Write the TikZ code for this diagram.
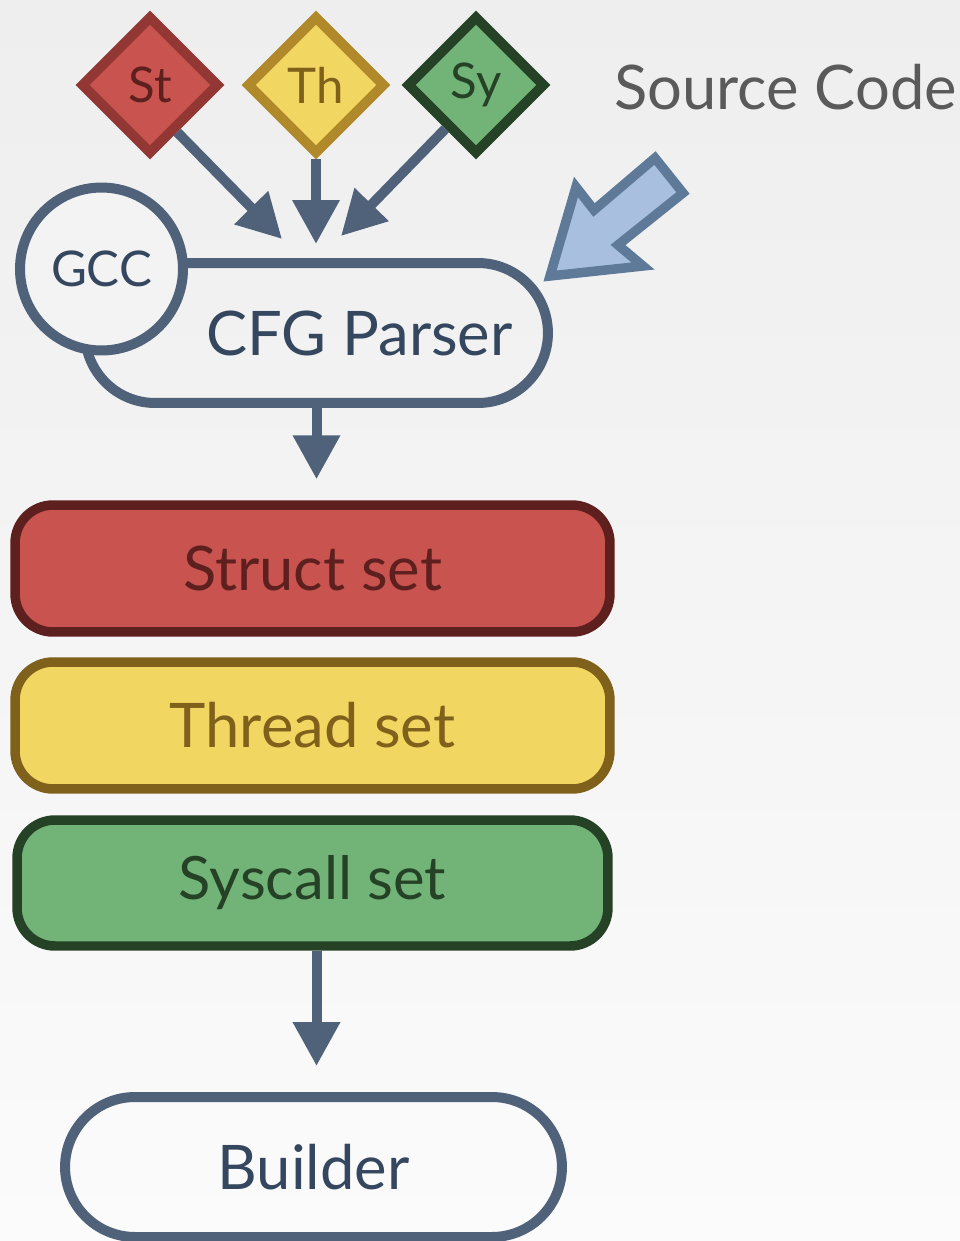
\documentclass[tikz,border=0pt]{standalone}
\usepackage{fontspec}
\setmainfont{Lato}
\usetikzlibrary{positioning, arrows.meta, shapes.geometric}

\definecolor{bgtop}{HTML}{EEEEEE}
\definecolor{bgbot}{HTML}{FBFBFB}
\definecolor{flowc}{HTML}{4F6279}
\definecolor{labc}{HTML}{34475F}
\definecolor{stfill}{HTML}{C8534F}
\definecolor{stline}{HTML}{933735}
\definecolor{sttext}{HTML}{5E1F1F}
\definecolor{thfill}{HTML}{F2D662}
\definecolor{thline}{HTML}{B08A2A}
\definecolor{thtext}{HTML}{7F611C}
\definecolor{syfill}{HTML}{72B477}
\definecolor{syline}{HTML}{264226}
\definecolor{srcfill}{HTML}{A8BFE0}
\definecolor{srcline}{HTML}{5F7A99}
\definecolor{srctext}{HTML}{5A5A5A}

\begin{document}
\begin{tikzpicture}[x=0.02cm, y=-0.02cm,
    flow/.style={draw=flowc, line width=0.2cm, -{Triangle[length=0.88cm, width=0.9cm]}},
    tag/.style={diamond, draw, line width=0.2cm, inner sep=0pt, minimum width=2.78cm, minimum height=2.78cm,
      font=\fontsize{28}{30}\selectfont},
    pill/.style={draw=flowc, line width=0.2cm, rounded corners=1.4cm, minimum height=2.8cm, inner sep=0pt,
      text=labc},
    setbox/.style={draw, line width=0.19cm, rounded corners=0.76cm, minimum width=11.9cm, minimum height=2.54cm,
      inner sep=0pt, font=\fontsize{35}{40}\selectfont}]
    % background
    \shade[top color=bgtop, bottom color=bgbot] (0,0) rectangle (960,1241);
    \useasboundingbox (0,0) rectangle (960,1241);

    \node[pill, minimum width=9.26cm, font=\fontsize{35}{40}\selectfont] (cfg) at (316.5,333) {\hspace*{1.72cm}CFG Parser};
    \node[circle, draw=flowc, line width=0.2cm, fill=bgtop!60!bgbot, minimum size=3.26cm, inner sep=0pt, text=labc,
      font=\fontsize{28}{30}\selectfont] (gcc) at (101.5,269) {GCC};

    % inputs
    \node[tag, fill=stfill, draw=stline, text=sttext] (st) at (150,85) {St};
    \node[tag, fill=thfill, draw=thline, text=thtext] (th) at (316,85) {Th};
    \node[tag, fill=syfill, draw=syline, text=syline] (sy) at (476,85) {Sy};
    \node[text=srctext, font=\fontsize{35}{40}\selectfont, anchor=west, inner sep=0pt] (src) at (614,87) {Source Code};

    \coordinate (inSt) at (282,239);
    \coordinate (inTh) at (316,244);
    \coordinate (inSy) at (341,236);
    \draw[flow] (st.-60) -- (inSt);
    \draw[flow] (th) -- (inTh);
    \draw[flow] (sy.-125) -- (inSy);

    % source code arrow
    \draw[fill=srcfill, draw=srcline, line width=0.19cm, line join=miter]
      (550,276) -- (576,187) -- (594,210) -- (655,158) -- (683,193) -- (618,245) -- (643,266) -- cycle;

    % sets
    \node[setbox, fill=stfill, draw=sttext, text=sttext] (structs) at (312.5,568.5) {Struct set};
    \node[setbox, fill=thfill, draw=thtext, text=thtext] (threads) at (312.5,725.5) {Thread set};
    \node[setbox, fill=syfill, draw=syline, text=syline, minimum width=11.82cm, minimum height=2.52cm,
      font=\fontsize{34}{40}\selectfont] (syscalls) at (312.5,883) {Syscall set};

    \node[pill, minimum width=9.94cm, font=\fontsize{35}{40}\selectfont] (builder) at (313.5,1167) {Builder};

    \draw[flow, shorten >=0.42cm] (cfg.south) -- (cfg.south |- structs.north);
    \draw[flow, shorten >=0.52cm] (cfg.south |- syscalls.south) -- (cfg.south |- builder.north);
  \end{tikzpicture}
\end{document}
